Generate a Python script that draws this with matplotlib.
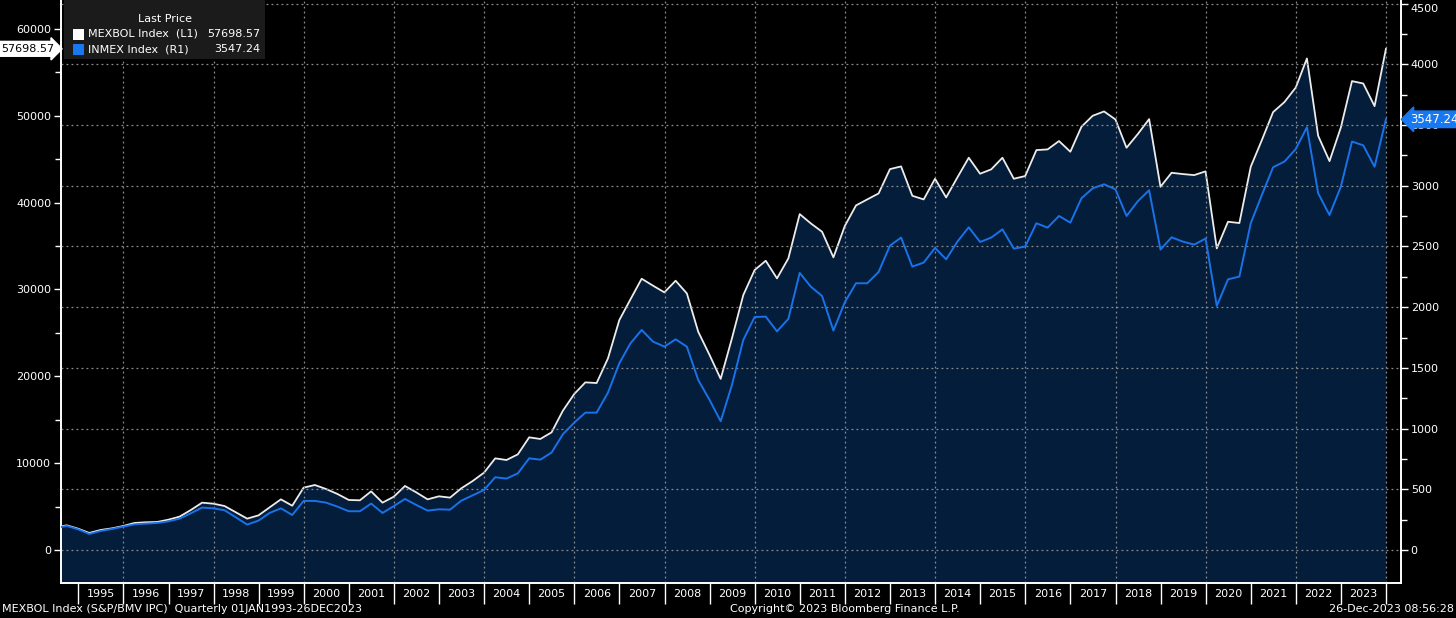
import pandas as pd
import matplotlib
matplotlib.use('Agg')
import matplotlib.pyplot as plt
import matplotlib.dates as mdates
import matplotlib.transforms as mtransforms
from matplotlib.patches import Rectangle

# quarterly closes, Q2 1994 .. Q4 2023
dates = pd.date_range('1994-06-30', '2023-12-31', freq='QE')

mexbol = [2610, 2840, 2450, 1960, 2300, 2490, 2760, 3110, 3190, 3220,
          3490, 3840, 4600, 5450, 5330, 5060, 4340, 3610, 3990, 4910,
          5830, 5100, 7180, 7480, 7020, 6450, 5760, 5720, 6750, 5450,
          6140, 7370, 6640, 5830, 6180, 6030, 7100, 7940, 8900, 10550,
          10360, 11010, 12970, 12780, 13540, 16040, 17960, 19300, 19220, 22060,
          26470, 28850, 31230, 30430, 29660, 31000, 29540, 25130, 22450, 19700,
          24360, 29350, 32230, 33300, 31270, 33570, 38670, 37600, 36640, 33690,
          37290, 39670, 40360, 41050, 43850, 44160, 40780, 40360, 42740, 40590,
          42890, 45160, 43320, 43820, 45160, 42740, 43050, 46040, 46120, 47080,
          45850, 48730, 49990, 50490, 49570, 46310, 47880, 49610, 41820, 43430,
          43280, 43160, 43590, 34720, 37790, 37640, 44120, 47190, 50410, 51570,
          53250, 56590, 47690, 44770, 48650, 53980, 53710, 51100, 57698.57]

inmex = [181, 198, 170, 132, 156, 173, 192, 211, 217, 222,
         236, 258, 302, 349, 343, 327, 269, 209, 242, 305,
         343, 288, 404, 404, 390, 357, 319, 319, 382, 305,
         362, 420, 371, 324, 335, 332, 406, 450, 494, 599,
         588, 631, 755, 744, 802, 953, 1049, 1131, 1131, 1296,
         1538, 1702, 1812, 1716, 1675, 1735, 1675, 1400, 1236, 1060,
         1359, 1730, 1919, 1922, 1801, 1903, 2282, 2169, 2092, 1807,
         2040, 2197, 2197, 2290, 2507, 2573, 2334, 2367, 2488, 2394,
         2540, 2658, 2537, 2573, 2641, 2482, 2499, 2691, 2655, 2751,
         2696, 2897, 2979, 3012, 2971, 2751, 2872, 2963, 2474, 2575,
         2540, 2515, 2565, 2010, 2229, 2252, 2691, 2924, 3152, 3199,
         3303, 3482, 2938, 2759, 2993, 3364, 3333, 3157, 3547.24]

left_ticks = [0, 10000, 20000, 30000, 40000, 50000, 60000]
right_ticks = [0, 500, 1000, 1500, 2000, 2500, 3000, 3500, 4000, 4500]

W, H = 1456, 618
fg = 'white'
fill_col = '#031d3b'
blue = '#1a72e8'
tag_blue = '#1778f0'
grid_col = '#8c8c8c'

plt.rcParams['font.family'] = ['DejaVu Sans']
fig = plt.figure(figsize=(W / 100, H / 100), dpi=100, facecolor='black')
ax = fig.add_axes([61 / W, 1 - 583 / H, 1340 / W, 583 / H], facecolor='black')
ax2 = ax.twinx()

ylo_l, yhi_l = -3800, 63320
ylo_r, yhi_r = -272, 4530

ax.fill_between(dates, mexbol, ylo_l, color=fill_col, lw=0, zorder=1)
ax.plot(dates, mexbol, color='#ececec', lw=1.3, zorder=3)
ax2.plot(dates, inmex, color=blue, lw=1.4, zorder=3)

ax.set_ylim(ylo_l, yhi_l)
ax2.set_ylim(ylo_r, yhi_r)
ax.set_xlim(pd.Timestamp('1994-08-14'), pd.Timestamp('2024-05-01'))

# grid: horizontal on right scale, vertical every other year
ax2.yaxis.grid(True, color=grid_col, linestyle=(0, (1.5, 2.5)), lw=0.9)
for yr in range(1996, 2025, 2):
    ax2.axvline(pd.Timestamp(f'{yr}-01-01'), color=grid_col,
                linestyle=(0, (1.5, 2.5)), lw=0.9, zorder=2)

# x axis: year separators and centred labels
ax.xaxis.set_major_locator(mdates.YearLocator())
ax.xaxis.set_major_formatter(plt.NullFormatter())
ax.xaxis.set_minor_locator(mdates.MonthLocator(bymonth=7, bymonthday=1))
ax.xaxis.set_minor_formatter(mdates.DateFormatter('%Y'))
ax.tick_params(axis='x', which='major', length=15, width=1, color=fg, direction='out')
ax.tick_params(axis='x', which='minor', length=0, pad=4, labelsize=8, labelcolor=fg)

ax.set_yticks(left_ticks)
ax.set_yticks(range(5000, 65000, 10000), minor=True)
ax.tick_params(axis='y', which='major', length=5, width=1, color=fg, labelsize=8,
               labelcolor=fg, pad=2)
ax.tick_params(axis='y', which='minor', length=4, width=1, color=fg)

ax2.set_yticks(right_ticks)
ax2.set_yticks(range(250, 4500, 500), minor=True)
ax2.tick_params(axis='y', which='major', length=5, width=1, color=fg, labelsize=8,
                labelcolor=fg, pad=2)
ax2.tick_params(axis='y', which='minor', length=4, width=1, color=fg)
ax2.get_yticklabels()[-1].set_verticalalignment('top')

for a in (ax, ax2):
    a.spines['top'].set_visible(False)
    for side in ('left', 'right', 'bottom'):
        a.spines[side].set_color(fg)
        a.spines[side].set_linewidth(1.2)

# last value tags
tl = mtransforms.blended_transform_factory(fig.transFigure, ax.transData)
fig.text(54 / W, mexbol[-1], f'{mexbol[-1]:.2f}', transform=tl, ha='right', va='center',
         fontsize=8, color='black', zorder=10,
         bbox=dict(boxstyle='rarrow,pad=0.22', fc='white', ec='white'))
tr = mtransforms.blended_transform_factory(fig.transFigure, ax2.transData)
fig.text(1410 / W, inmex[-1], f'{inmex[-1]:.2f}', transform=tr, ha='left', va='center',
         fontsize=8.5, color='white', zorder=10,
         bbox=dict(boxstyle='larrow,pad=0.15', fc=tag_blue, ec=tag_blue))

# legend block
def fx(px):
    return px / W

def fy(py):
    return 1 - py / H

fig.add_artist(Rectangle((fx(64), fy(59)), 201 / W, 59 / H, transform=fig.transFigure,
                         fc='#1b1b1b', ec='none', zorder=5))
fig.text(fx(165), fy(19), 'Last Price', ha='center', va='center', fontsize=8,
         color=fg, zorder=6)
fig.add_artist(Rectangle((fx(73), fy(40)), 11 / W, 11 / H, transform=fig.transFigure,
                         fc='white', ec='none', zorder=6))
fig.add_artist(Rectangle((fx(73), fy(55)), 11 / W, 11 / H, transform=fig.transFigure,
                         fc=tag_blue, ec='none', zorder=6))
fig.text(fx(88), fy(34), 'MEXBOL Index  (L1)', ha='left', va='center', fontsize=8,
         color=fg, zorder=6)
fig.text(fx(260), fy(34), f'{mexbol[-1]:.2f}', ha='right', va='center', fontsize=8,
         color=fg, zorder=6)
fig.text(fx(88), fy(49), 'INMEX Index  (R1)', ha='left', va='center', fontsize=8,
         color=fg, zorder=6)
fig.text(fx(260), fy(49), f'{inmex[-1]:.2f}', ha='right', va='center', fontsize=8,
         color=fg, zorder=6)

# footer
fig.text(fx(2), fy(609), 'MEXBOL Index (S&P/BMV IPC)  Quarterly 01JAN1993-26DEC2023',
         ha='left', va='center', fontsize=8, color=fg)
fig.text(fx(845), fy(609), 'Copyright© 2023 Bloomberg Finance L.P.', ha='center',
         va='center', fontsize=8, color=fg)
fig.text(fx(1454), fy(609), '26-Dec-2023 08:56:28', ha='right', va='center',
         fontsize=8, color=fg)

fig.savefig('out.png', dpi=100, facecolor='black')
